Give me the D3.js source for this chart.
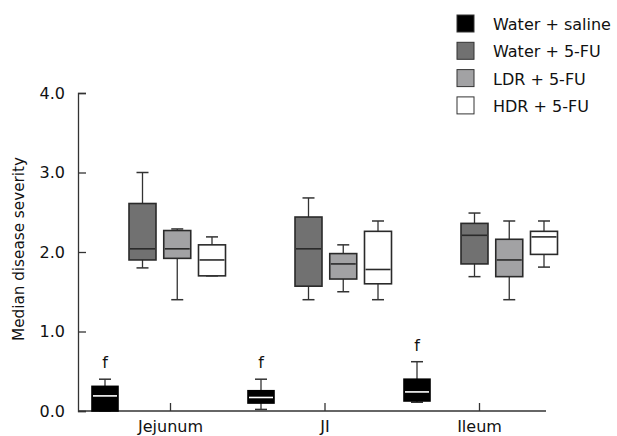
<!DOCTYPE html>
<html>
<head>
<meta charset="utf-8">
<script src="https://cdn.jsdelivr.net/npm/d3@7"></script>
<style>
body { margin: 0; background: #fff; }
text { font-family: "DejaVu Sans", Verdana, sans-serif; fill: #111; }
</style>
</head>
<body>
<div id="chart"></div>
<script>
// data: [min, q1, median, q3, max]
var categories = ["Jejunum", "JI", "Ileum"];
var seriesNames = ["Water + saline", "Water + 5-FU", "LDR + 5-FU", "HDR + 5-FU"];
var seriesColors = ["#000000", "#717171", "#a2a2a4", "#ffffff"];
var salineStats = [[0, 0, 0.19, 0.31, 0.40], [0.02, 0.10, 0.17, 0.255, 0.40], [0.11, 0.126, 0.24, 0.40, 0.62]];
var water5fuStats = [[1.80, 1.90, 2.04, 2.61, 3.00], [1.40, 1.57, 2.04, 2.44, 2.68], [1.69, 1.85, 2.21, 2.36, 2.49]];
var ldrStats = [[1.40, 1.92, 2.04, 2.27, 2.29], [1.50, 1.66, 1.85, 1.98, 2.09], [1.40, 1.69, 1.90, 2.16, 2.39]];
var hdrStats = [[1.70, 1.70, 1.90, 2.09, 2.19], [1.40, 1.60, 1.78, 2.26, 2.39], [1.81, 1.97, 2.19, 2.26, 2.39]];
var sigMarks = ["f", "f", "f"];
var yTicks = [0, 1, 2, 3, 4];

var svgWidth = 617, svgHeight = 436;

var svg = d3.select("#chart").append("svg")
    .attr("width", svgWidth)
    .attr("height", svgHeight);

var y = d3.scaleLinear().domain([0, 4]).range([411, 93]);
var xCat = d3.scalePoint().domain(categories).range([170, 479]);
// saline boxes and the 5-FU cluster sit at their own spacing in the figure
var xSaline = d3.scalePoint().domain(categories).range([105, 417]);
var xFu = d3.scalePoint().domain(categories).range([177, 509]);
var xInner = d3.scalePoint().domain(seriesNames.slice(1)).range([-34.5, 35]);

// axes
var yAxis = svg.append("g")
    .attr("transform", "translate(78,0)")
    .call(d3.axisLeft(y).tickValues(yTicks).tickSize(-8).tickPadding(13).tickFormat(d3.format(".1f")));
var xAxis = svg.append("g")
    .attr("transform", "translate(0,411)")
    .call(d3.axisBottom(xCat).tickSize(-8).tickPadding(10));
xAxis.select(".domain").attr("d", "M78,0H546");
[yAxis, xAxis].forEach(function(a) {
    a.select(".domain").attr("stroke", "#333").attr("stroke-width", 1.3);
    a.selectAll(".tick line").attr("stroke", "#333").attr("stroke-width", 1.3);
    a.selectAll("text").attr("font-size", "16px").attr("fill", "#111");
});

svg.append("text")
    .attr("transform", "translate(24,249) rotate(-90)")
    .attr("text-anchor", "middle")
    .attr("font-size", "15px")
    .attr("textLength", 184)
    .attr("lengthAdjust", "spacingAndGlyphs")
    .text("Median disease severity");

// boxes
var boxes = [];
categories.forEach(function(c, i) {
    boxes.push({ x: xSaline(c), s: salineStats[i], k: 0, w: 26 });
    boxes.push({ x: xFu(c) + xInner(seriesNames[1]), s: water5fuStats[i], k: 1, w: 27 });
    boxes.push({ x: xFu(c) + xInner(seriesNames[2]), s: ldrStats[i], k: 2, w: 27 });
    boxes.push({ x: xFu(c) + xInner(seriesNames[3]), s: hdrStats[i], k: 3, w: 27 });
});

var g = svg.selectAll(".box").data(boxes).enter().append("g").attr("class", "box");
g.append("line")
    .attr("x1", d => d.x).attr("x2", d => d.x)
    .attr("y1", d => y(d.s[0])).attr("y2", d => y(d.s[4]))
    .attr("stroke", "#333").attr("stroke-width", 1.3);
g.selectAll(".cap").data(d => [d, d]).enter().append("line")
    .attr("x1", d => d.x - 6).attr("x2", d => d.x + 6)
    .attr("y1", (d, j) => y(d.s[j === 0 ? 0 : 4]))
    .attr("y2", (d, j) => y(d.s[j === 0 ? 0 : 4]))
    .attr("stroke", "#333").attr("stroke-width", 1.5);
g.append("rect")
    .attr("x", d => d.x - d.w / 2)
    .attr("width", d => d.w)
    .attr("y", d => y(d.s[3]))
    .attr("height", d => y(d.s[1]) - y(d.s[3]))
    .attr("fill", d => seriesColors[d.k])
    .attr("stroke", d => d.k === 0 ? "#000" : "#2a2a2a")
    .attr("stroke-width", 1.6);
g.append("line")
    .attr("x1", d => d.x - d.w / 2 + 1).attr("x2", d => d.x + d.w / 2 - 1)
    .attr("y1", d => y(d.s[2])).attr("y2", d => y(d.s[2]))
    .attr("stroke", d => d.k === 0 ? "#fff" : "#2a2a2a")
    .attr("stroke-width", 1.6);

// significance marks above the saline boxes
svg.selectAll(".sig").data(categories).enter().append("text")
    .attr("class", "sig")
    .attr("x", c => xSaline(c))
    .attr("y", (c, i) => y(salineStats[i][4]) - 11)
    .attr("text-anchor", "middle")
    .attr("font-size", "16px")
    .text((c, i) => sigMarks[i]);

// legend
var legend = svg.selectAll(".legend").data(seriesNames).enter().append("g")
    .attr("class", "legend")
    .attr("transform", (d, i) => "translate(457," + (15 + i * 27.3) + ")");
legend.append("rect")
    .attr("width", 17).attr("height", 17)
    .attr("fill", (d, i) => seriesColors[i])
    .attr("stroke", "#333").attr("stroke-width", 1);
legend.append("text")
    .attr("x", 36).attr("y", 15)
    .attr("font-size", "16px")
    .text(d => d);
</script>
</body>
</html>
